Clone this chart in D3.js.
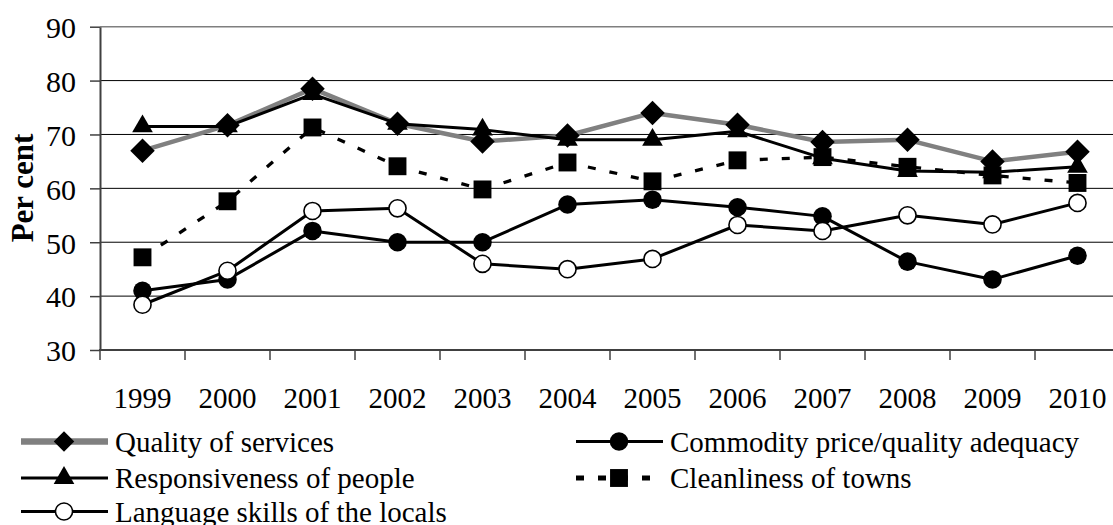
<!DOCTYPE html>
<html><head><meta charset="utf-8">
<script src="https://cdn.jsdelivr.net/npm/d3@7"></script>
<style>body{margin:0;background:#fff}svg{display:block}</style></head>
<body><svg id="c" width="1113" height="525"></svg>
<script>
const years = ["1999","2000","2001","2002","2003","2004","2005","2006","2007","2008","2009","2010"];
const quality        = [67, 71.7, 78.5, 72, 68.7, 69.8, 74, 71.8, 68.6, 69, 65, 66.8];
const commodity      = [41, 43.1, 52.1, 50, 50, 57, 57.9, 56.5, 54.8, 46.4, 43.1, 47.5];
const responsiveness = [71.5, 71.5, 77.5, 72, 70.9, 69, 69, 70.6, 65.6, 63.2, 63, 64];
const cleanliness    = [47.2, 57.6, 71.3, 64.1, 59.8, 64.8, 61.3, 65.2, 65.8, 64, 62.4, 61];
const language       = [38.4, 44.7, 55.8, 56.3, 46, 45, 46.9, 53.2, 52.1, 55, 53.3, 57.3];
const yTicks = [30, 40, 50, 60, 70, 80, 90];
const seriesNames = ["Quality of services", "Commodity price/quality adequacy", "Responsiveness of people", "Cleanliness of towns", "Language skills of the locals"];
const yTitle = "Per cent";

const FONT = '"Liberation Serif", "Times New Roman", serif';
const svg = d3.select("#c");
const x = d3.scaleBand().domain(years).range([100, 1120]);
const y = d3.scaleLinear().domain([30, 90]).range([350, 26.7]);
const cx = d => x(d) + x.bandwidth() / 2;

const series = [
  {name: seriesNames[0], values: quality, stroke: "#808080", width: 4.5, legW: 6.5, dash: null, marker: "diamond"},
  {name: seriesNames[1], values: commodity, stroke: "#000", width: 3, legW: 3.2, dash: null, marker: "circle"},
  {name: seriesNames[2], values: responsiveness, stroke: "#000", width: 3, legW: 3.2, dash: null, marker: "triangle"},
  {name: seriesNames[3], values: cleanliness, stroke: "#000", width: 3.3, legW: 5, dash: "8,14", marker: "square"},
  {name: seriesNames[4], values: language, stroke: "#000", width: 3, legW: 3.2, dash: null, marker: "open"}
];

function markerPath(type, legend) {
  if (type === "diamond") return d3.symbol(d3.symbolSquare, legend ? 210 : 300)();
  if (type === "triangle") return d3.symbol(d3.symbolTriangle, 185)();
  if (type === "square") return d3.symbol(d3.symbolSquare, 320)();
  if (type === "circle") return d3.symbol(d3.symbolCircle, 270)();
  return d3.symbol(d3.symbolCircle, 230)();
}
function drawMarker(g, type, px, py, legend) {
  const p = g.append("path").attr("d", markerPath(type, legend))
    .attr("transform", `translate(${px},${py})` + (type === "diamond" ? " rotate(45)" : ""));
  if (type === "open") p.attr("fill", "#fff").attr("stroke", "#000").attr("stroke-width", 1.6);
  else p.attr("fill", "#000");
}

// gridlines
svg.append("g").selectAll("line").data(yTicks.filter(t => t > 30 && t < 90)).join("line")
  .attr("x1", 100).attr("x2", 1120)
  .attr("y1", d => y(d)).attr("y2", d => y(d))
  .attr("stroke", "#000").attr("stroke-width", 1);
// top border
svg.append("line").attr("x1", 100).attr("x2", 1120).attr("y1", y(90)).attr("y2", y(90))
  .attr("stroke", "#7f7f7f").attr("stroke-width", 1.5);

// y axis
const gy = svg.append("g").attr("transform", "translate(100,0)")
  .call(d3.axisLeft(y).tickValues(yTicks).tickSize(10).tickSizeOuter(0).tickPadding(14).tickFormat(d3.format("d")));
gy.attr("font-family", FONT);
gy.select(".domain").attr("stroke", "#404040").attr("stroke-width", 2);
gy.selectAll(".tick line").attr("stroke", "#404040").attr("stroke-width", 1.5);
gy.selectAll("text").style("font-family", FONT).attr("font-size", 30).attr("fill", "#000").attr("dy", "0.36em");

// x axis
const gx = svg.append("g").attr("transform", "translate(0,350)")
  .call(d3.axisBottom(x).tickSize(0).tickSizeOuter(0));
gx.attr("font-family", FONT);
gx.select(".domain").remove();
gx.selectAll("text").style("font-family", FONT).attr("font-size", 29).attr("fill", "#000")
  .attr("y", 58).attr("dy", 0);
svg.append("line").attr("x1", 99).attr("x2", 1120).attr("y1", 350).attr("y2", 350)
  .attr("stroke", "#404040").attr("stroke-width", 2);
svg.append("g").selectAll("line").data(years).join("line")
  .attr("x1", d => x(d)).attr("x2", d => x(d)).attr("y1", 350).attr("y2", 360)
  .attr("stroke", "#404040").attr("stroke-width", 1.5);

// y title
svg.append("text").attr("transform", "translate(33,188) rotate(-90)")
  .attr("text-anchor", "middle").attr("font-weight", "bold").style("font-family", FONT)
  .attr("font-size", 31).text(yTitle);

// lines
const line = d3.line().x((d, i) => cx(years[i])).y(d => y(d));
const gl = svg.append("g");
series.forEach(s => {
  gl.append("path").datum(s.values).attr("d", line).attr("fill", "none")
    .attr("stroke", s.stroke).attr("stroke-width", s.width)
    .attr("stroke-dasharray", s.dash).attr("stroke-linejoin", "round");
});
const gm = svg.append("g");
series.forEach(s => {
  s.values.forEach((v, i) => drawMarker(gm, s.marker, cx(years[i]), y(v), false));
});

// legend
const legendPos = [
  {x: 21, y: 441.5}, {x: 576, y: 441.5},
  {x: 21, y: 478}, {x: 576, y: 478},
  {x: 21, y: 511.5}
];
const gLeg = svg.append("g");
series.forEach((s, i) => {
  const p = legendPos[i];
  gLeg.append("line").attr("x1", p.x).attr("x2", p.x + 87).attr("y1", p.y).attr("y2", p.y)
    .attr("stroke", s.stroke).attr("stroke-width", s.legW).attr("stroke-dasharray", s.dash);
  drawMarker(gLeg, s.marker, p.x + 43, p.y, true);
  gLeg.append("text").attr("x", p.x + 94).attr("y", p.y + 10).style("font-family", FONT)
    .attr("font-size", 29).attr("fill", "#000").text(s.name);
});
</script>
</body></html>
